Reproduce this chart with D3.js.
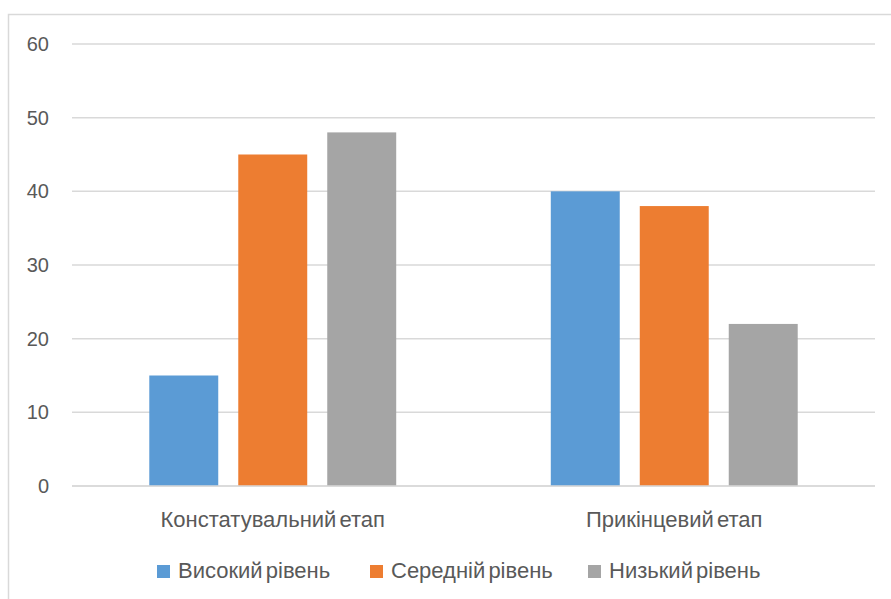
<!DOCTYPE html>
<html>
<head>
<meta charset="utf-8">
<script src="https://cdn.jsdelivr.net/npm/d3@7"></script>
<style>
  body { margin: 0; background: #fff; }
  text { font-family: "Liberation Sans", "Noto Sans", sans-serif; fill: #595959; }
</style>
</head>
<body>
<div id="chart"></div>
<script>
const categories = ["Констатувальний етап", "Прикінцевий етап"]
const seriesNames = ["Високий рівень", "Середній рівень", "Низький рівень"]
const seriesColors = ["#5B9BD5", "#ED7D31", "#A5A5A5"]
const highLevel = [15, 40]
const midLevel = [45, 38]
const lowLevel = [48, 22]
const yTicks = [0, 10, 20, 30, 40, 50, 60]

const seriesValues = [highLevel, midLevel, lowLevel]

const W = 891, H = 599
const plot = {left: 72, right: 875, top: 44, bottom: 486}

const svg = d3.select('#chart')
  .append('svg')
  .attr('width', W)
  .attr('height', H)

// chart frame (runs off the right/bottom edge)
svg.append('rect')
  .attr('x', 8.5).attr('y', 14.5)
  .attr('width', W + 10).attr('height', H + 10)
  .attr('fill', 'none')
  .attr('stroke', '#d9d9d9')
  .attr('stroke-width', 1.5)

const y = d3.scaleLinear()
  .domain([0, 60])
  .range([plot.bottom, plot.top])

const x0 = d3.scaleBand()
  .domain(categories)
  .range([plot.left, plot.right])
  .padding(0)

const groupW = x0.bandwidth() * 0.615
const x1 = d3.scaleBand()
  .domain(seriesNames)
  .range([0, groupW])
  .paddingInner(0.225)

// gridlines
svg.append('g')
  .selectAll('line')
  .data(yTicks)
  .enter()
  .append('line')
  .attr('x1', plot.left)
  .attr('x2', plot.right)
  .attr('y1', d => y(d))
  .attr('y2', d => y(d))
  .attr('stroke', '#d9d9d9')
  .attr('stroke-width', 1.5)

// y tick labels
svg.append('g')
  .selectAll('text')
  .data(yTicks)
  .enter()
  .append('text')
  .attr('x', 49)
  .attr('y', d => y(d))
  .attr('dy', '0.35em')
  .attr('text-anchor', 'end')
  .style('font-size', '20px')
  .text(d => d)

// bars
const groups = svg.append('g')
  .selectAll('g')
  .data(categories)
  .enter()
  .append('g')
  .attr('transform', d => 'translate(' + (x0(d) + (x0.bandwidth() - groupW) / 2) + ',0)')

groups.selectAll('rect')
  .data((c, ci) => seriesNames.map((s, si) => ({s: s, si: si, v: seriesValues[si][ci]})))
  .enter()
  .append('rect')
  .attr('x', d => x1(d.s))
  .attr('width', x1.bandwidth())
  .attr('y', d => y(d.v))
  .attr('height', d => y(0) - y(d.v))
  .attr('fill', d => seriesColors[d.si])

// baseline over the bars
svg.append('line')
  .attr('x1', plot.left).attr('x2', plot.right)
  .attr('y1', y(0)).attr('y2', y(0))
  .attr('stroke', '#d9d9d9')
  .attr('stroke-width', 1.5)

// category labels
svg.append('g')
  .selectAll('text')
  .data(categories)
  .enter()
  .append('text')
  .attr('x', d => x0(d) + x0.bandwidth() / 2)
  .attr('y', 527)
  .attr('text-anchor', 'middle')
  .style('font-size', '22px')
  .style('word-spacing', '-3px')
  .text(d => d)

// legend
const legendX = [157, 370, 588]
const legend = svg.append('g')
  .selectAll('g')
  .data(seriesNames)
  .enter()
  .append('g')
  .attr('transform', (d, i) => 'translate(' + legendX[i] + ',565)')

legend.append('rect')
  .attr('width', 13)
  .attr('height', 13)
  .attr('fill', (d, i) => seriesColors[i])

legend.append('text')
  .attr('x', 21)
  .attr('y', 13)
  .style('font-size', '22px')
  .style('word-spacing', '-3px')
  .text(d => d)
</script>
</body>
</html>
